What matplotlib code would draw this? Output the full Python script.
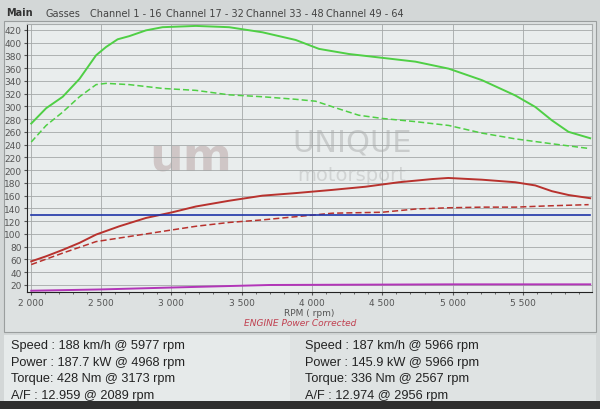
import matplotlib.pyplot as plt
from matplotlib.patches import Rectangle
from matplotlib.ticker import FuncFormatter, MultipleLocator

# torque / power curves
rpm_a = [2005, 2111, 2229, 2348, 2466, 2537, 2619, 2702, 2820, 2938, 3175, 3411, 3648,
         3884, 4050, 4262, 4499, 4735, 4972, 5208, 5445, 5587, 5705, 5823, 5977]
torque_a = [273, 297, 315, 343, 380, 393, 405, 410, 419, 424, 426, 424, 416,
            404, 390, 382, 376, 370, 359, 341, 317, 299, 278, 260, 250]

rpm_b = [2005, 2111, 2229, 2348, 2466, 2537, 2702, 2938, 3175, 3411, 3648, 3884, 4026,
         4191, 4333, 4499, 4735, 4972, 5208, 5445, 5681, 5966]
torque_b = [244, 270, 291, 315, 334, 336, 334, 328, 325, 318, 315, 311, 308,
            296, 286, 281, 276, 270, 258, 249, 242, 234]

rpm_pa = [2005, 2111, 2229, 2348, 2466, 2631, 2820, 3009, 3175, 3411, 3648, 3884, 4144,
          4381, 4617, 4854, 4968, 5208, 5445, 5587, 5705, 5823, 5977]
power_a = [57, 65, 75, 86, 99, 112, 125, 134, 143, 152, 160, 164, 169,
           174, 181, 186, 187.7, 185, 181, 176, 167, 161, 156]

rpm_pb = [2005, 2229, 2466, 2702, 2938, 3175, 3411, 3648, 3884, 4073, 4144, 4499, 4735,
          4972, 5208, 5445, 5681, 5966]
power_b = [52, 70, 88, 96, 104, 112, 118, 122, 127, 131, 132.5, 134, 139,
           141, 142, 142, 144, 145.9]

rpm_af = [2005, 5977]
af_ref = [130, 130]

rpm_m = [2005, 2500, 3000, 3700, 5000, 5977]
misc_m = [11, 13, 16, 20, 21, 21]

xticks = [2000, 2500, 3000, 3500, 4000, 4500, 5000, 5500]
yticks = list(range(20, 440, 20))

tabs = ['Gasses', 'Channel 1 - 16', 'Channel 17 - 32', 'Channel 33 - 48', 'Channel 49 - 64']
left_lines = ['Speed : 188 km/h @ 5977 rpm', 'Power : 187.7 kW @ 4968 rpm',
              'Torque: 428 Nm @ 3173 rpm', 'A/F : 12.959 @ 2089 rpm']
right_lines = ['Speed : 187 km/h @ 5966 rpm', 'Power : 145.9 kW @ 5966 rpm',
               'Torque: 336 Nm @ 2567 rpm', 'A/F : 12.974 @ 2956 rpm']

W, H = 600, 410
fig = plt.figure(figsize=(6, 4.1), dpi=100, facecolor='#d3d7d7')


def px(x, y):
    return x / W, 1 - y / H


def panel(x, y, w, h, fc, ec='none'):
    fig.patches.append(Rectangle(px(x, y + h), w / W, h / H, transform=fig.transFigure,
                                 facecolor=fc, edgecolor=ec, lw=0.8, zorder=-5))


# panels behind the chart and the readout
panel(4, 22, 592, 311, '#dde1e1', '#9a9e9e')
panel(4, 336, 592, 66, '#dfe3e3')
panel(4, 336, 286, 66, '#e6eaea')
panel(0, 402, 600, 8, '#2e2e2e')

ax = fig.add_axes([27 / W, 1 - 293 / H, 565 / W, 268 / H])
ax.set_facecolor('#e9eded')

ax.plot(rpm_a, torque_a, color='#4fcf45', lw=1.4)
ax.plot(rpm_b, torque_b, color='#4fcf45', lw=1.1, ls=(0, (4, 2)))
ax.plot(rpm_pa, power_a, color='#b8322e', lw=1.4)
ax.plot(rpm_pb, power_b, color='#b8322e', lw=1.1, ls=(0, (4, 2)))
ax.plot(rpm_af, af_ref, color='#1f35a8', lw=1.2)
ax.plot(rpm_m, misc_m, color='#b235b8', lw=1.4)

ax.set_xlim(1975, 5990)
ax.set_ylim(9, 429)
ax.set_xticks(xticks)
ax.set_yticks(yticks)
ax.xaxis.set_minor_locator(MultipleLocator(100))
ax.xaxis.set_major_formatter(FuncFormatter(lambda v, p: f'{int(v):,}'.replace(',', ' ')))
ax.set_axisbelow(True)
ax.grid(True, color='#a4a8a8', lw=0.6)
ax.tick_params(labelsize=6.5, colors='#555555', length=2, pad=2)
ax.tick_params(axis='x', which='minor', length=1.5, colors='#555555')
for side in ['top', 'right']:
    ax.spines[side].set_color('#a8acac')
ax.spines['left'].set_color('#222222')
ax.spines['bottom'].set_color('#222222')
ax.set_xlabel('RPM ( rpm)', fontsize=6.5, color='#555555', labelpad=1)

# faint watermark
ax.text(0.29, 0.50, 'um', transform=ax.transAxes, fontsize=34, color='#cfc6c6',
        ha='center', va='center', fontweight='bold', zorder=0.5)
ax.text(0.575, 0.56, 'UNIQUE', transform=ax.transAxes, fontsize=22, color='#c9cccc',
        ha='center', va='center', zorder=0.5)
ax.text(0.575, 0.44, 'motorsport', transform=ax.transAxes, fontsize=14, color='#d0d3d3',
        ha='center', va='center', zorder=0.5)

fig.text(*px(300, 324), 'ENGINE Power Corrected', fontsize=6.5, color='#c04050',
         style='italic', ha='center', va='center')

# tab bar
fig.text(*px(6, 13), 'Main', fontsize=7, color='#333333', fontweight='bold', va='center')
tab_x = [45, 90, 166, 246, 326]
for x, t in zip(tab_x, tabs):
    fig.text(*px(x, 14), t, fontsize=7, color='#444444', va='center')

# readout text
row_y = [346, 363, 379, 396]
for y, t in zip(row_y, left_lines):
    fig.text(*px(11, y), t, fontsize=9.2, color='#222222', va='center', family='Liberation Sans')
for y, t in zip(row_y, right_lines):
    fig.text(*px(305, y), t, fontsize=9.2, color='#222222', va='center', family='Liberation Sans')

fig.savefig('out.png', dpi=100, facecolor=fig.get_facecolor())
